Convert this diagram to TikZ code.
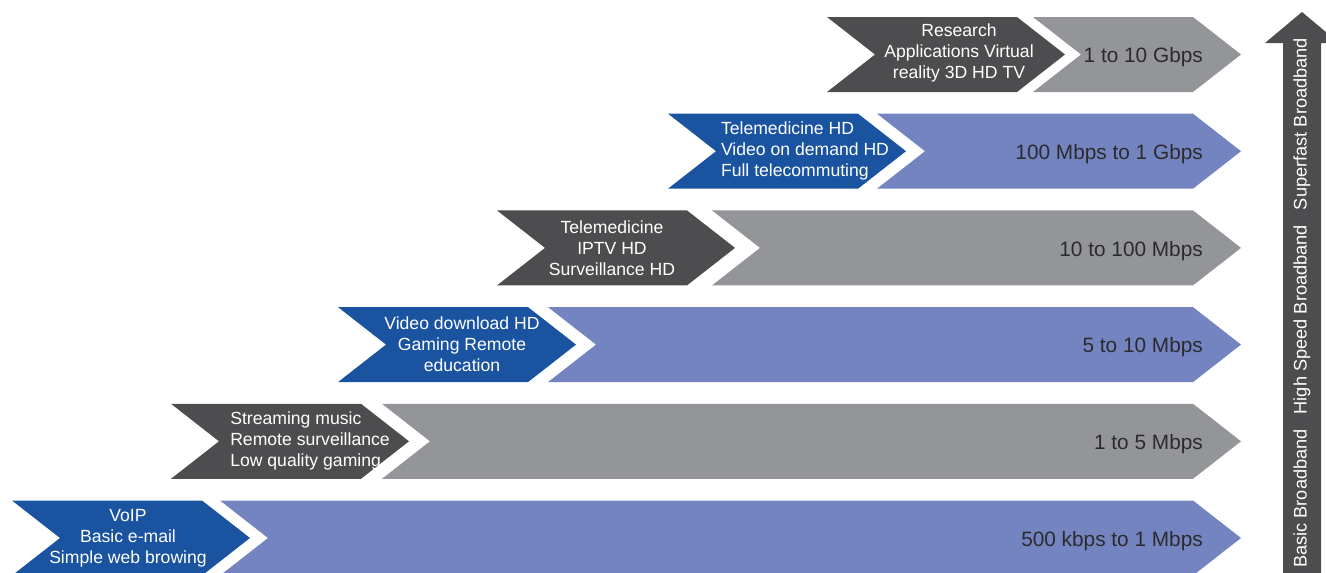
\documentclass[tikz,border=0pt]{standalone}
\usepackage{fontspec}
\setmainfont{Liberation Sans}
\usetikzlibrary{shapes.symbols,positioning,calc}
\definecolor{DarkGray}{HTML}{4D4D4F}
\definecolor{DarkBlue}{HTML}{1A54A1}
\definecolor{LightGray}{HTML}{939598}
\definecolor{LightBlue}{HTML}{7484C1}
\definecolor{Ink}{HTML}{2B2B2D}
\tikzset{
  chev/.style={signal,signal from=west,signal to=east,signal pointer angle=76,
    minimum height=75pt,inner sep=0pt,outer sep=0pt,draw=none},
  task/.style={chev,minimum width=238pt},
  tasktext/.style={text=white,align=center,inner sep=0pt,font=\fontsize{17.6}{21}\selectfont},
  speedtext/.style={text=Ink,anchor=east,inner sep=0pt,font=\fontsize{20.8}{24}\selectfont}
}

\begin{document}
\begin{tikzpicture}[x=1pt,y=-1pt]
    \useasboundingbox (0,0) rectangle (1326,573);

    % speed chevrons (behind)
    \node[chev,fill=LightBlue,minimum width=1021pt] (s1) at (730.5,538) {};
    \node[chev,fill=LightGray,minimum width=859pt] (s2) at (811.5,441.3) {};
    \node[chev,fill=LightBlue,minimum width=693pt] (s3) at (894.5,344.6) {};
    \node[chev,fill=LightGray,minimum width=529pt] (s4) at (976.5,247.9) {};
    \node[chev,fill=LightBlue,minimum width=364pt] (s5) at (1059,151.2) {};
    \node[chev,fill=LightGray,minimum width=208pt] (s6) at (1137,54.5) {};

    % service chevrons
    \node[task,fill=DarkBlue] (a1) at (131,538) {};
    \node[task,fill=DarkGray] (a2) at (290,441.3) {};
    \node[task,fill=DarkBlue] (a3) at (457,344.6) {};
    \node[task,fill=DarkGray] (a4) at (616,247.9) {};
    \node[task,fill=DarkBlue] (a5) at (787,151.2) {};
    \node[task,fill=DarkGray] (a6) at (946,54.5) {};

    \node[tasktext] (t1) at ([xshift=-3pt]a1.center) {VoIP\\Basic e-mail\\Simple web browing};
    \node[tasktext,align=left] (t2) at ([xshift=20pt]a2.center) {Streaming music\\Remote surveillance\\Low quality gaming};
    \node[tasktext] (t3) at ([xshift=5pt]a3.center) {Video download HD\\Gaming Remote\\education};
    \node[tasktext] (t4) at ([xshift=-4pt]a4.center) {Telemedicine\\IPTV HD\\Surveillance HD};
    \node[tasktext,align=left] (t5) at ([xshift=18pt]a5.center) {Telemedicine HD\\Video on demand HD\\Full telecommuting};
    \node[tasktext] (t6) at ([xshift=13pt,yshift=2pt]a6.center) {Research\\Applications Virtual\\reality 3D HD TV};

    \node[speedtext] (r1) at ([xshift=-38pt,yshift=-3pt]s1.east) {500 kbps to 1 Mbps};
    \node[speedtext] (r2) at ([xshift=-38pt,yshift=-3pt]s2.east) {1 to 5 Mbps};
    \node[speedtext] (r3) at ([xshift=-38pt,yshift=-3pt]s3.east) {5 to 10 Mbps};
    \node[speedtext] (r4) at ([xshift=-38pt,yshift=-3pt]s4.east) {10 to 100 Mbps};
    \node[speedtext] (r5) at ([xshift=-38pt,yshift=-3pt]s5.east) {100 Mbps to 1 Gbps};
    \node[speedtext] (r6) at ([xshift=-38pt,yshift=-3pt]s6.east) {1 to 10 Gbps};

    % broadband scale
    \fill[DarkGray] (1283,580) -- (1283,43) -- (1265,43) -- (1302,12) -- (1339,43)
      -- (1321,43) -- (1321,580) -- cycle;
    \node[rotate=90,anchor=west,text=white,inner sep=0pt,font=\fontsize{18.2}{21}\selectfont] (band) at (1302,568)
      {Basic Broadband\hspace{15pt}High Speed Broadband\hspace{15pt}Superfast Broadband};
  \end{tikzpicture}
\end{document}
